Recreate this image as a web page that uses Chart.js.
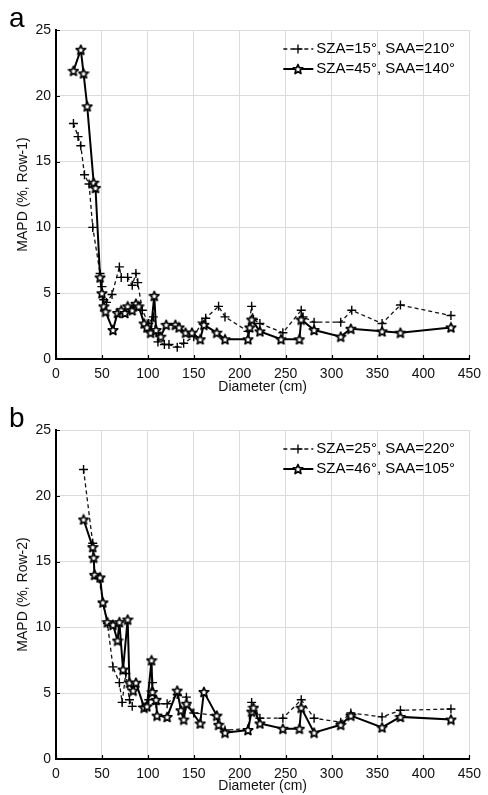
<!DOCTYPE html>
<html>
<head>
<meta charset="utf-8">
<title>MAPD vs diameter</title>
<script src="https://cdn.jsdelivr.net/npm/chart.js@4.4.1/dist/chart.umd.min.js"></script>
<style>
  html, body { margin: 0; padding: 0; background: #fff; overflow: hidden; }
  canvas { position: absolute; left: 0; }
  #chart-a { top: 0; }
  #chart-b { top: 400px; }
</style>
</head>
<body>
<canvas id="chart-a" width="488" height="396"></canvas>
<canvas id="chart-b" width="488" height="395"></canvas>
<script>
"use strict";

// axis ticks
const xTickValues = [0, 50, 100, 150, 200, 250, 300, 350, 400, 450];
const yTickValues = [0, 5, 10, 15, 20, 25];

// panel a (Row-1)
const labelsA = ['SZA=15\u00b0, SAA=210\u00b0', 'SZA=45\u00b0, SAA=140\u00b0'];
const diamA15 = [19, 24, 27, 31, 36, 40, 48, 50, 52, 55, 61, 69, 71, 78, 83, 87, 89, 94, 101, 106, 109, 111, 118, 123, 132, 139, 150, 159, 163, 177, 184, 209, 213, 215, 222, 247, 267, 269, 281, 310, 322, 355, 375, 430];
const mapdA15 = [17.9, 16.9, 16.2, 14.0, 13.3, 10.0, 6.5, 5.5, 4.5, 4.3, 4.9, 7.0, 6.2, 6.2, 5.6, 6.5, 5.8, 3.7, 2.7, 3.2, 2.0, 1.3, 1.1, 1.1, 0.9, 1.2, 1.7, 2.8, 3.1, 4.0, 3.2, 2.1, 4.0, 3.0, 2.7, 2.0, 3.7, 3.2, 2.8, 2.8, 3.7, 2.7, 4.1, 3.3];
const diamA45 = [19, 27, 30, 34, 41, 43, 48, 50, 52, 54, 62, 67, 71, 75, 78, 83, 87, 90, 96, 99, 103, 107, 109, 114, 120, 130, 134, 141, 148, 157, 161, 175, 184, 209, 211, 213, 222, 245, 265, 267, 281, 310, 321, 355, 375, 430];
const mapdA45 = [21.9, 23.5, 21.7, 19.2, 13.4, 13.0, 6.2, 5.0, 4.0, 3.6, 2.2, 3.5, 3.7, 3.5, 4.0, 3.7, 4.2, 4.0, 2.7, 2.4, 2.0, 4.8, 2.2, 1.7, 2.6, 2.6, 2.4, 2.0, 2.0, 1.5, 2.6, 2.0, 1.5, 1.5, 2.4, 3.0, 2.1, 1.5, 1.5, 3.0, 2.2, 1.7, 2.3, 2.1, 2.0, 2.4];

// panel b (Row-2)
const labelsB = ['SZA=25\u00b0, SAA=220\u00b0', 'SZA=46\u00b0, SAA=105\u00b0'];
const diamB25 = [30, 40, 41, 42, 47, 51, 56, 62, 69, 72, 76, 80, 83, 94, 101, 105, 109, 121, 132, 142, 150, 175, 184, 209, 213, 222, 247, 267, 281, 310, 321, 355, 375, 430];
const mapdB25 = [22.0, 16.4, 15.3, 14.0, 13.7, 11.9, 10.3, 7.0, 5.8, 4.3, 6.5, 4.5, 4.0, 4.0, 4.5, 5.8, 4.2, 4.2, 4.9, 4.7, 3.5, 3.3, 2.2, 2.3, 4.3, 3.1, 3.1, 4.5, 3.1, 2.8, 3.5, 3.2, 3.7, 3.8];
const diamB46 = [30, 40, 41, 42, 48, 51, 56, 62, 67, 69, 73, 78, 80, 84, 87, 96, 99, 104, 105, 109, 110, 121, 132, 136, 139, 142, 157, 161, 175, 177, 184, 209, 213, 215, 222, 247, 265, 267, 281, 310, 321, 355, 375, 430];
const mapdB46 = [18.2, 16.1, 15.3, 14.0, 13.8, 11.9, 10.4, 10.2, 9.0, 10.4, 6.8, 10.6, 5.8, 5.2, 5.8, 3.9, 4.0, 7.5, 5.1, 4.5, 3.3, 3.2, 5.2, 3.7, 3.0, 4.2, 2.7, 5.1, 3.3, 2.6, 2.0, 2.2, 3.6, 3.9, 2.7, 2.3, 2.3, 3.9, 2.0, 2.6, 3.3, 2.4, 3.2, 3.0];

const FONT = '"Liberation Sans", Arial, sans-serif';
Chart.defaults.font.family = FONT;
Chart.defaults.font.size = 14;
Chart.defaults.color = '#111';

function toPoints(xs, ys) {
  return xs.map((x, i) => ({ x: x, y: ys[i] }));
}

// hollow five-point star, like the matlab 'p' marker
function makeStarMarker(size) {
  const c = document.createElement('canvas');
  c.width = size;
  c.height = size;
  const g = c.getContext('2d');
  const cx = size / 2, cy = size / 2 + 0.5;
  const R = size / 2 - 1, r = R * 0.45;
  g.beginPath();
  for (let i = 0; i < 10; i++) {
    const a = -Math.PI / 2 + i * Math.PI / 5;
    const rad = i % 2 === 0 ? R : r;
    const px = cx + rad * Math.cos(a), py = cy + rad * Math.sin(a);
    if (i === 0) g.moveTo(px, py); else g.lineTo(px, py);
  }
  g.closePath();
  g.fillStyle = '#fff';
  g.fill();
  g.lineWidth = 1.7;
  g.lineJoin = 'round';
  g.strokeStyle = '#000';
  g.stroke();
  return c;
}

const starMarker = makeStarMarker(12);

// inward ticks, panel letter and the in-plot legend
const panelDecor = {
  id: 'panelDecor',
  afterDraw(chart, args, opts) {
    const { ctx, chartArea, scales } = chart;
    ctx.save();

    ctx.strokeStyle = '#000';
    ctx.lineWidth = 1.2;
    ctx.beginPath();
    xTickValues.forEach(v => {
      const px = Math.round(scales.x.getPixelForValue(v)) + 0.5;
      ctx.moveTo(px, chartArea.bottom);
      ctx.lineTo(px, chartArea.bottom - 4);
    });
    yTickValues.forEach(v => {
      const py = Math.round(scales.y.getPixelForValue(v)) + 0.5;
      ctx.moveTo(chartArea.left, py);
      ctx.lineTo(chartArea.left + 4, py);
    });
    ctx.stroke();

    ctx.fillStyle = '#000';
    ctx.font = '28px ' + FONT;
    ctx.textAlign = 'left';
    ctx.textBaseline = 'alphabetic';
    ctx.fillText(opts.letter, 9, 27);

    // legend rows
    const x0 = chartArea.right - 186;
    const x1 = x0 + 30;
    chart.data.datasets.forEach((ds, i) => {
      const y = opts.legendTop + i * 20;
      ctx.strokeStyle = ds.borderColor;
      ctx.lineWidth = ds.borderWidth;
      ctx.setLineDash(ds.borderDash || []);
      ctx.beginPath();
      ctx.moveTo(x0, y);
      ctx.lineTo(x1, y);
      ctx.stroke();
      ctx.setLineDash([]);
      const mx = Math.round((x0 + x1) / 2);
      if (ds.pointStyle === 'cross') {
        ctx.lineWidth = ds.pointBorderWidth;
        ctx.beginPath();
        ctx.moveTo(mx - 4.5, y);
        ctx.lineTo(mx + 4.5, y);
        ctx.moveTo(mx, y - 4.5);
        ctx.lineTo(mx, y + 4.5);
        ctx.stroke();
      } else {
        ctx.drawImage(ds.pointStyle, mx - ds.pointStyle.width / 2, Math.round(y - ds.pointStyle.height / 2));
      }
      ctx.fillStyle = '#000';
      ctx.font = '15px ' + FONT;
      ctx.textBaseline = 'middle';
      ctx.fillText(ds.label, x1 + 3, y);
    });

    ctx.restore();
  }
};

function makePanel(canvasId, letter, yTitle, xHeight, labels, dashed, solid) {
  const el = document.getElementById(canvasId);
  return new Chart(el, {
    type: 'line',
    data: {
      datasets: [{
        label: labels[0],
        data: dashed,
        borderColor: '#111',
        borderWidth: 1.3,
        borderDash: [4, 3],
        pointStyle: 'cross',
        pointRadius: 4.5,
        pointBorderWidth: 1.4,
        pointBorderColor: '#000',
        fill: false,
        tension: 0,
        order: 1
      }, {
        label: labels[1],
        data: solid,
        borderColor: '#000',
        borderWidth: 2,
        pointStyle: starMarker,
        pointRadius: 6,
        fill: false,
        tension: 0,
        order: 0
      }]
    },
    options: {
      responsive: false,
      animation: false,
      devicePixelRatio: 1,
      layout: { padding: { left: 0, right: 15, top: 30, bottom: 0 } },
      plugins: {
        legend: { display: false },
        tooltip: { enabled: false },
        panelDecor: { letter: letter, legendTop: 49 }
      },
      scales: {
        x: {
          type: 'linear',
          min: 0,
          max: 450,
          afterBuildTicks: s => { s.ticks = xTickValues.map(v => ({ value: v })); },
          afterFit: s => { s.height = xHeight; },
          grid: { color: '#dcdcdc', drawTicks: false },
          border: { color: '#000', width: 2 },
          ticks: { padding: 7, maxRotation: 0, autoSkip: false },
          title: { display: true, text: 'Diameter (cm)', padding: { top: 0, bottom: 0 } }
        },
        y: {
          type: 'linear',
          min: 0,
          max: 25,
          afterBuildTicks: s => { s.ticks = yTickValues.map(v => ({ value: v })); },
          afterFit: s => { s.width = 56; },
          grid: { color: '#dcdcdc', drawTicks: false },
          border: { color: '#000', width: 2 },
          ticks: { padding: 5 },
          title: { display: true, text: yTitle, padding: { top: 15, bottom: 0 } }
        }
      }
    },
    plugins: [panelDecor]
  });
}

makePanel('chart-a', 'a', 'MAPD (%, Row-1)', 37, labelsA, toPoints(diamA15, mapdA15), toPoints(diamA45, mapdA45));
makePanel('chart-b', 'b', 'MAPD (%, Row-2)', 36, labelsB, toPoints(diamB25, mapdB25), toPoints(diamB46, mapdB46));
</script>
</body>
</html>
